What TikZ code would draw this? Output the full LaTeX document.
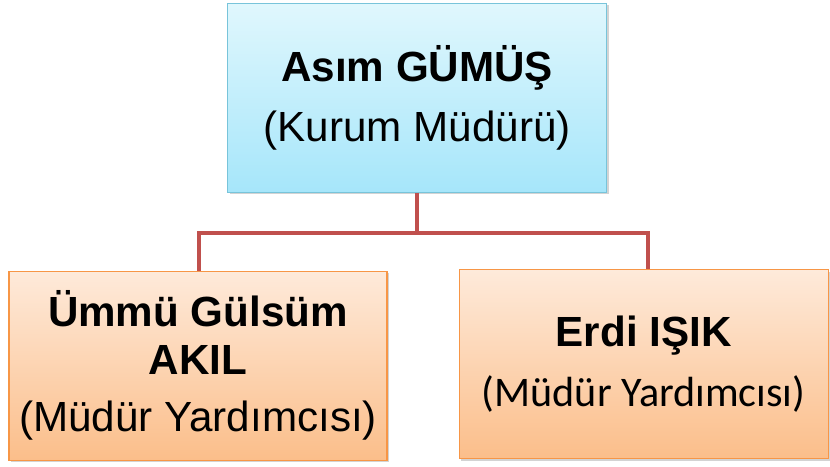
\documentclass[tikz,border=0pt]{standalone}
\usepackage{fontspec}
\setmainfont{Liberation Sans}
\newfontfamily\calibrifont{Carlito}
\usepackage{tikz}
\usetikzlibrary{positioning,shadows,calc}
\definecolor{chiefblue}{RGB}{224,247,253}
\definecolor{chiefbluedark}{RGB}{166,230,250}
\definecolor{chiefedge}{RGB}{120,196,218}
\definecolor{deputytop}{RGB}{254,234,218}
\definecolor{deputybottom}{RGB}{251,190,138}
\definecolor{deputyedge}{RGB}{247,150,70}
\definecolor{linkred}{RGB}{192,80,77}

\begin{document}
\begin{tikzpicture}[
chief/.style={
draw=chiefedge,
line width=0.8pt,
top color=chiefblue,
bottom color=chiefbluedark,
drop shadow={opacity=0.35,shadow xshift=1.5pt,shadow yshift=-1.5pt},
minimum width=9.475cm,
minimum height=4.725cm,
align=center,
font=\fontsize{30}{34}\selectfont
},
deputy/.style={
draw=deputyedge,
line width=0.8pt,
top color=deputytop,
bottom color=deputybottom,
drop shadow={opacity=0.35,shadow xshift=1.5pt,shadow yshift=-1.5pt},
minimum width=9.45cm,
minimum height=4.725cm,
align=center,
font=\fontsize{30}{34}\selectfont
},
link/.style={
draw=linkred,
line width=2.8pt
}
]

\useasboundingbox (0,0) rectangle (20.75,11.65);

\node[chief] (mudur) at (10.43,9.21)
{\textbf{Asım GÜMÜŞ}\\[9pt](Kurum Müdürü)};

\node[deputy] (akil) at (4.95,2.51)
{\textbf{Ümmü Gülsüm}\\\textbf{AKIL}\\[7pt](Müdür Yardımcısı)};

\node[deputy, minimum width=9.225cm] (isik) at (16.09,2.54)
{\textbf{Erdi IŞIK}\\[9pt]{\calibrifont (Müdür Yardımcısı)}};

\coordinate (bus) at ($(mudur.south)+(0,-1.0)$);

\draw[link] (mudur.south) -- (bus);
\draw[link] ([xshift=0.03cm]akil.north) |- (bus) -| ([xshift=0.12cm]isik.north);

\end{tikzpicture}
\end{document}
